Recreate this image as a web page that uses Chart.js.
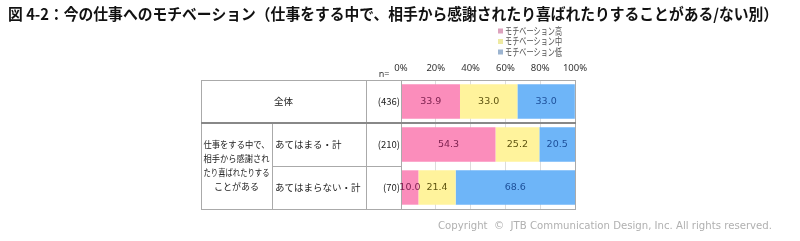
<!DOCTYPE html>
<html>
<head>
<meta charset="utf-8">
<script src="https://cdn.jsdelivr.net/npm/chart.js@4.4.1/dist/chart.umd.min.js"></script>
<style>
  html, body { margin: 0; padding: 0; background: #fff; }
  #wrap { width: 800px; height: 241px; }
</style>
</head>
<body>
<div id="wrap"><canvas id="motChart" width="800" height="241"></canvas></div>
<script>
const titleText = '図 4-2：今の仕事へのモチベーション（仕事をする中で、相手から感謝されたり喜ばれたりすることがある/ない別）';
const categories = ['全体', 'あてはまる・計', 'あてはまらない・計'];
const groupLabel = ['仕事をする中で、', '相手から感謝され', 'たり喜ばれたりする', 'ことがある'];
const sampleSizes = [436, 210, 70];
const seriesNames = ['モチベーション高', 'モチベーション中', 'モチベーション低'];
const highMotivation = [33.9, 54.3, 10.0];
const midMotivation = [33.0, 25.2, 21.4];
const lowMotivation = [33.0, 20.5, 68.6];
const tickLabels = ['0%', '20%', '40%', '60%', '80%', '100%'];

const barColors = ['#fb8dbb', '#fff39c', '#6eb5f8'];
const textColors = ['#7e2250', '#5e5410', '#1d4f99'];
const legendColors = ['#dca3bd', '#eeeaa2', '#9cb4d0'];

const jp = '"Noto Sans CJK JP", "Noto Sans", sans-serif';

const tablePlugin = {
  id: 'tablePlugin',
  afterDraw(chart) {
    const { ctx, chartArea, scales } = chart;
    const y = scales.y;
    const top = chartArea.top, bottom = chartArea.bottom;
    const plotL = chartArea.left, right = chartArea.right;
    const left = 201, col1 = 272, col2 = 366;
    const step = y.getPixelForValue(1) - y.getPixelForValue(0);
    const b1 = Math.round(y.getPixelForValue(0) + step / 2);
    const b2 = Math.round(y.getPixelForValue(1) + step / 2);

    ctx.save();
    // title
    ctx.fillStyle = '#111';
    ctx.font = 'bold 15.5px ' + jp;
    ctx.textBaseline = 'middle';
    ctx.textAlign = 'left';
    ctx.fillText(titleText, 8, 14, 770);

    // legend
    ctx.font = '10px ' + jp;
    seriesNames.forEach((name, i) => {
      const ly = 31 + i * 10.5;
      ctx.fillStyle = legendColors[i];
      ctx.fillRect(498, ly - 2.5, 5, 5);
      ctx.fillStyle = '#555';
      ctx.fillText(name, 505, ly, 57);
    });

    // n=
    ctx.fillStyle = '#333';
    ctx.font = '9px "Noto Sans", sans-serif';
    ctx.textAlign = 'center';
    ctx.fillText('n=', 384, 74);

    // table lines
    ctx.strokeStyle = '#aaa';
    ctx.lineWidth = 1;
    ctx.strokeRect(left + 0.5, top + 0.5, right - left, bottom - top);
    ctx.beginPath();
    ctx.moveTo(col2 + 0.5, top); ctx.lineTo(col2 + 0.5, bottom);
    ctx.moveTo(plotL + 0.5, top); ctx.lineTo(plotL + 0.5, bottom);
    ctx.moveTo(col1 + 0.5, b1); ctx.lineTo(col1 + 0.5, bottom);
    ctx.moveTo(col1, b2 + 0.5); ctx.lineTo(plotL, b2 + 0.5);
    ctx.stroke();
    ctx.strokeStyle = '#888';
    ctx.lineWidth = 2;
    ctx.beginPath();
    ctx.moveTo(left, b1); ctx.lineTo(right + 1, b1);
    ctx.stroke();

    // table text
    ctx.fillStyle = '#222';
    ctx.font = '9.5px ' + jp;
    ctx.textAlign = 'center';
    ctx.fillText(categories[0], (left + col2) / 2, y.getPixelForValue(0));
    ctx.textAlign = 'left';
    ctx.fillText(categories[1], 275, y.getPixelForValue(1), 88);
    ctx.fillText(categories[2], 275, y.getPixelForValue(2), 88);
    ctx.textAlign = 'right';
    sampleSizes.forEach((n, i) => {
      ctx.fillText('(' + n + ')', plotL - 1, y.getPixelForValue(i));
    });
    ctx.textAlign = 'center';
    ctx.font = '9px ' + jp;
    const mid = (b1 + bottom) / 2;
    groupLabel.forEach((line, i) => {
      ctx.fillText(line, (left + col1) / 2, mid + (i - 1.5) * 14, 66);
    });

    // value labels
    ctx.font = '9.5px "DejaVu Sans", sans-serif';
    chart.data.datasets.forEach((ds, d) => {
      const meta = chart.getDatasetMeta(d);
      ctx.fillStyle = textColors[d];
      meta.data.forEach((el, i) => {
        ctx.fillText(ds.data[i].toFixed(1), (el.x + el.base) / 2, el.y);
      });
    });

    // copyright
    ctx.fillStyle = '#b0b0b0';
    ctx.font = '11px "DejaVu Sans", sans-serif';
    ctx.textAlign = 'left';
    ctx.fillText('Copyright  \u00a9  JTB Communication Design, Inc. All rights reserved.', 438, 226, 334);
    ctx.restore();
  }
};

new Chart(document.getElementById('motChart'), {
  type: 'bar',
  data: {
    labels: categories,
    datasets: [
      { label: seriesNames[0], data: highMotivation, backgroundColor: barColors[0] },
      { label: seriesNames[1], data: midMotivation, backgroundColor: barColors[1] },
      { label: seriesNames[2], data: lowMotivation, backgroundColor: barColors[2] }
    ]
  },
  options: {
    indexAxis: 'y',
    responsive: false,
    animation: false,
    devicePixelRatio: 1,
    barPercentage: 0.8,
    categoryPercentage: 1,
    layout: { padding: { left: 401, right: 225, top: 60, bottom: 32 } },
    scales: {
      x: {
        stacked: true,
        position: 'top',
        min: 0,
        max: 100,
        afterFit: (scale) => { scale.height = 20; },
        ticks: {
          stepSize: 20,
          padding: 6,
          color: '#333',
          font: { size: 9.5, family: '"Noto Sans", sans-serif' },
          callback: (v, i) => tickLabels[i]
        },
        grid: { color: '#dcdcdc', drawTicks: false },
        border: { display: false }
      },
      y: {
        stacked: true,
        display: false
      }
    },
    plugins: {
      legend: { display: false },
      tooltip: { enabled: false }
    }
  },
  plugins: [tablePlugin]
});
</script>
</body>
</html>
